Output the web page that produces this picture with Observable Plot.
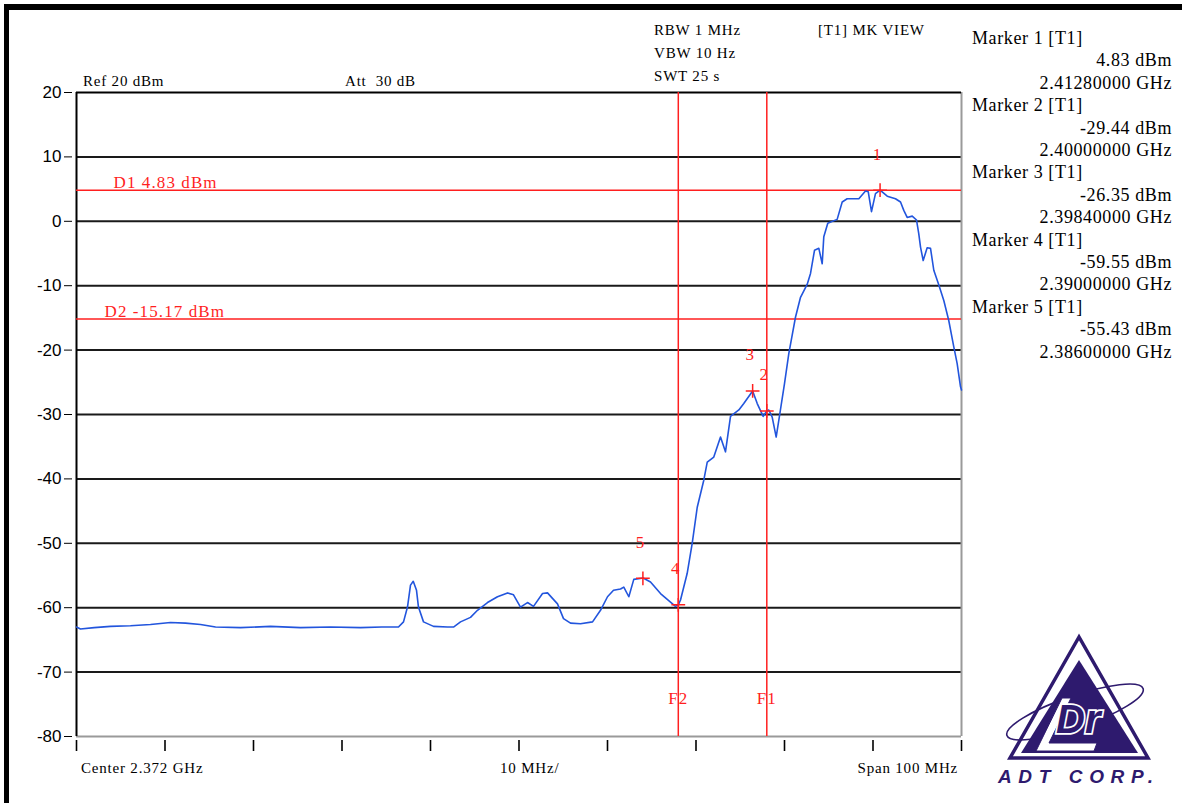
<!DOCTYPE html>
<html>
<head>
<meta charset="utf-8">
<script src="https://cdn.jsdelivr.net/npm/d3@7"></script>
<script src="https://cdn.jsdelivr.net/npm/@observablehq/plot@0.6"></script>
<style>
  html, body { margin: 0; padding: 0; background: #fff; }
  #page { position: relative; width: 1182px; height: 803px; overflow: hidden; background: #fff; }
  #chart { position: absolute; left: 0; top: 0; }
  .t { position: absolute; white-space: pre; color: #000; font-family: "Liberation Serif", serif; }
  .hdr { font-size: 15px; line-height: 15px; letter-spacing: 0.8px; }
  .mk { font-size: 18px; line-height: 18px; letter-spacing: 0.6px; }
  #frameTop { position: absolute; left: 4px; top: 4px; width: 1178px; height: 6px; background: #000; }
  #frameLeft { position: absolute; left: 4px; top: 4px; width: 5px; height: 799px; background: #000; }
  .dlabel text { letter-spacing: 1.1px; }
</style>
</head>
<body>
<div id="page">
  <div id="chart"></div>
  <div id="frameTop"></div>
  <div id="frameLeft"></div>
</div>
<script>
// ---- data ----
const traceFreqGHz = [
  2.32200, 2.32245, 2.32400, 2.32584, 2.32810, 2.33036, 2.33262, 2.33432, 2.33601, 2.33771,
  2.34053, 2.34392, 2.34731, 2.35070, 2.35409, 2.35650, 2.35838, 2.35895, 2.35940, 2.35974,
  2.36005, 2.36042, 2.36064, 2.36121, 2.36234, 2.36392, 2.36460, 2.36539, 2.36652, 2.36731,
  2.36844, 2.36957, 2.37070, 2.37138, 2.37217, 2.37296, 2.37364, 2.37466, 2.37522, 2.37635,
  2.37703, 2.37782, 2.37895, 2.38031, 2.38121, 2.38200, 2.38268, 2.38347, 2.38384, 2.38441,
  2.38497, 2.38603, 2.38686, 2.38799, 2.38968, 2.39000, 2.39025, 2.39100, 2.39157, 2.39214,
  2.39288, 2.39327, 2.39401, 2.39477, 2.39533, 2.39590, 2.39684, 2.39740, 2.39840, 2.39892,
  2.39959, 2.40000, 2.40023, 2.40061, 2.40106, 2.40147, 2.40200, 2.40249, 2.40276, 2.40324,
  2.40381, 2.40456, 2.40494, 2.40539, 2.40588, 2.40626, 2.40644, 2.40689, 2.40795, 2.40852,
  2.40908, 2.41040, 2.41115, 2.41146, 2.41183, 2.41228, 2.41280, 2.41361, 2.41454, 2.41511,
  2.41548, 2.41586, 2.41643, 2.41692, 2.41717, 2.41737, 2.41767, 2.41812, 2.41850, 2.41887,
  2.41944, 2.42000, 2.42056, 2.42113, 2.42151, 2.42189, 2.42200
];
const traceLevelDbm = [
  -63.0, -63.3, -63.1, -62.9, -62.8, -62.6, -62.3, -62.4, -62.6, -63.0,
  -63.1, -62.9, -63.1, -63.0, -63.1, -63.0, -63.0, -62.2, -59.9, -56.5,
  -55.9, -57.3, -59.9, -62.2, -62.9, -63.0, -63.0, -62.2, -61.5, -60.4,
  -59.2, -58.3, -57.7, -58.0, -59.9, -59.2, -59.8, -57.8, -57.7, -59.4,
  -61.7, -62.4, -62.5, -62.2, -60.4, -58.3, -57.3, -57.1, -56.8, -58.3,
  -55.6, -55.4, -56.0, -57.8, -59.8, -59.55, -58.8, -54.7, -50.0, -44.4,
  -40.2, -37.4, -36.6, -33.5, -35.8, -30.3, -29.3, -28.3, -26.35, -28.3,
  -30.3, -29.44, -29.3, -30.4, -33.5, -29.9, -25.2, -20.5, -18.5, -14.9,
  -11.8, -9.8, -8.1, -4.5, -4.2, -6.6, -2.4, -0.3, 0.3, 3.0,
  3.5, 3.5, 4.7, 4.6, 1.5, 4.3, 4.83, 3.9, 3.5, 3.0,
  1.7, 0.6, 0.8, 0.2, -1.9, -4.0, -6.1, -4.1, -4.2, -7.6,
  -9.9, -12.3, -15.4, -19.5, -22.1, -25.7, -26.2
];

const markerIds = ["1", "2", "3", "4", "5"];
const markerFreqGHz = [2.4128, 2.4000, 2.3984, 2.3900, 2.3860];
const markerLevelDbm = [4.83, -29.44, -26.35, -59.55, -55.43];

const displayLineNames = ["D1", "D2"];
const displayLineDbm = [4.83, -15.17];

const freqLineNames = ["F2", "F1"];
const freqLineGHz = [2.390, 2.400];

const yTicks = [20, 10, 0, -10, -20, -30, -40, -50, -60, -70, -80];
const xTicks = [2.322, 2.332, 2.342, 2.352, 2.362, 2.372, 2.382, 2.392, 2.402, 2.412, 2.422];

const headerTexts = ["Ref 20 dBm", "Att  30 dB", "RBW 1 MHz", "VBW 10 Hz", "SWT 25 s", "[T1] MK VIEW"];
const footerTexts = ["Center 2.372 GHz", "10 MHz/", "Span 100 MHz"];

// ---- tables ----
const trace = traceFreqGHz.map((f, i) => ({f, v: traceLevelDbm[i]}));
const markers = markerIds.map((id, i) => ({id, f: markerFreqGHz[i], v: markerLevelDbm[i]}));
const dLines = displayLineNames.map((n, i) => ({n, v: displayLineDbm[i], label: `${n} ${displayLineDbm[i].toFixed(2)} dBm`}));
const fLines = freqLineNames.map((n, i) => ({n, f: freqLineGHz[i]}));
const gridLevels = yTicks.filter(d => d > -80 && d < 20);

const RED = "#ff1f1f";
const BLUE = "#2255dd";
const xMin = d3.min(xTicks), xMax = d3.max(xTicks);
const yMin = d3.min(yTicks), yMax = d3.max(yTicks);

const chart = Plot.plot({
  width: 1182,
  height: 803,
  marginLeft: 76,
  marginRight: 221,
  marginTop: 92,
  marginBottom: 67,
  x: {domain: [xMin, xMax]},
  y: {domain: [yMin, yMax]},
  style: {background: "transparent", fontFamily: "'Liberation Serif', serif", overflow: "visible"},
  marks: [
    Plot.ruleY(gridLevels, {stroke: "#1a1a1a", strokeWidth: 2}),
    Plot.ruleY([yMin], {stroke: "#9a9a9a", strokeWidth: 2}),
    Plot.ruleX([xMax], {stroke: "#9a9a9a", strokeWidth: 2}),
    Plot.ruleY([yMax], {stroke: "#000", strokeWidth: 2}),
    Plot.ruleX([xMin], {stroke: "#000", strokeWidth: 2}),
    Plot.ruleY(dLines, {y: "v", stroke: RED, strokeWidth: 1.5}),
    Plot.ruleX(fLines, {x: "f", stroke: RED, strokeWidth: 1.5}),
    Plot.line(trace, {x: "f", y: "v", stroke: BLUE, strokeWidth: 1.6}),
    Plot.dot(markers, {x: "f", y: "v", symbol: "plus", r: 4.5, stroke: RED, strokeWidth: 1.5}),
    Plot.text(markers, {x: "f", y: "v", text: "id", dx: -3, dy: -36, fill: RED, fontSize: 17}),
    Plot.text(fLines, {x: "f", text: "n", frameAnchor: "bottom", dy: -33, fill: RED, fontSize: 17, className: "dlabel"}),
    Plot.text(dLines.slice(0, 1), {x: () => xMin, y: "v", text: "label", textAnchor: "start", lineAnchor: "bottom",
      dx: 37, dy: -2, fill: RED, fontSize: 17, className: "dlabel"}),
    Plot.text(dLines.slice(1, 2), {x: () => xMin, y: "v", text: "label", textAnchor: "start", lineAnchor: "bottom",
      dx: 28, dy: -2, fill: RED, fontSize: 17, className: "dlabel"}),
    Plot.axisY({ticks: yTicks, tickSize: 8, tickPadding: 3, dx: -4, fontSize: 17, tickFormat: d => String(d),
      fontFamily: "'Liberation Sans', Arial, sans-serif", label: null, stroke: "#000"}),
    Plot.axisX({ticks: xTicks, tickSize: 11, dy: 4, tickFormat: () => "", label: null, strokeWidth: 1.6})
  ]
});
document.getElementById("chart").appendChild(chart);

// ---- HTML texts ----
const page = document.getElementById("page");
function addText(txt, cls, left, centerY, size, align) {
  const el = document.createElement("div");
  el.className = "t " + cls;
  el.textContent = txt;
  el.style.top = (centerY - size / 2) + "px";
  if (align === "right") { el.style.right = (1182 - left) + "px"; }
  else el.style.left = left + "px";
  page.appendChild(el);
  return el;
}
addText(headerTexts[0], "hdr", 83, 81, 15);
addText(headerTexts[1], "hdr", 345, 81, 15);
addText(headerTexts[2], "hdr", 654, 30, 15);
addText(headerTexts[3], "hdr", 654, 53, 15);
addText(headerTexts[4], "hdr", 654, 76, 15);
addText(headerTexts[5], "hdr", 818, 30, 15);
addText(footerTexts[0], "hdr", 81, 768, 15);
addText(footerTexts[1], "hdr", 500, 768, 15);
addText(footerTexts[2], "hdr", 958, 768, 15, "right");

markers.forEach((m, i) => {
  const base = 38 + i * 3 * 22.4;
  addText(`Marker ${m.id} [T1]`, "mk", 972, base, 18);
  addText(`${m.v.toFixed(2)} dBm`, "mk", 1172, base + 22.4, 18, "right");
  addText(`${m.f.toFixed(8)} GHz`, "mk", 1172, base + 44.8, 18, "right");
});

// ---- logo ----
const logo = `
<svg xmlns="http://www.w3.org/2000/svg" width="190" height="165" viewBox="0 0 190 165" style="position:absolute;left:985px;top:630px">
  <g fill="none" stroke="#2e1a6e">
    <polygon points="94,7 25,128 163,128" stroke-width="3.5" stroke-linejoin="miter"/>
    <ellipse cx="90" cy="82" rx="72" ry="16" transform="rotate(-19 90 82)" stroke-width="1.6"/>
  </g>
  <polygon points="94,30 36,123 153,123" fill="#2e1a6e"/>
  <polygon points="77,68 86,68 64,113 112,113 109,121 51,121" fill="#fff" stroke="#2e1a6e" stroke-width="1"/>
  <text x="71" y="103" font-family="'Liberation Sans', Arial, sans-serif" font-weight="bold" font-style="italic" font-size="40"
        fill="#2e1a6e" stroke="#fff" stroke-width="3.5" paint-order="stroke">Dr</text>
  <text x="13" y="153" font-family="'Liberation Sans', Arial, sans-serif" font-weight="bold" font-style="italic" font-size="19"
        fill="#2e1a6e" textLength="155" lengthAdjust="spacing">ADT CORP.</text>
</svg>`;
page.insertAdjacentHTML("beforeend", logo);
</script>
</body>
</html>
